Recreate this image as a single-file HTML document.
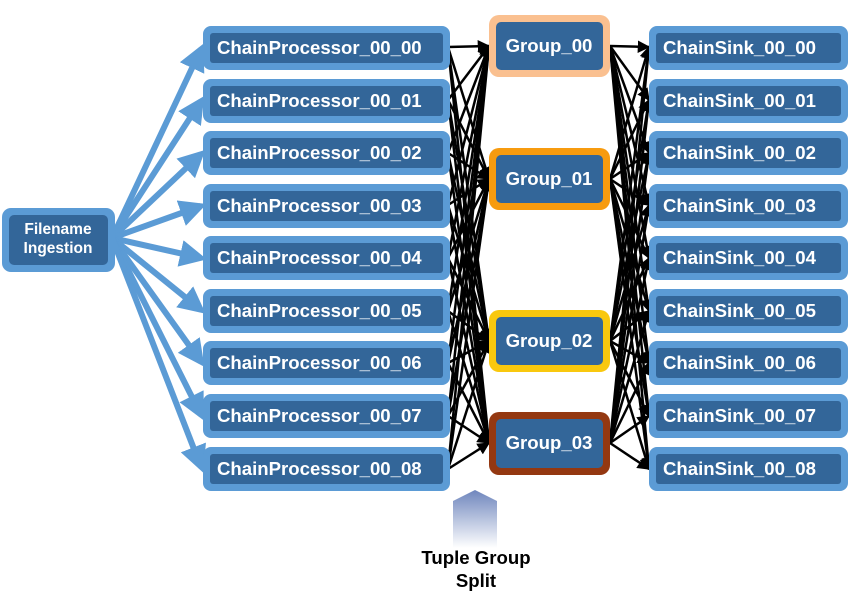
<!DOCTYPE html>
<html><head><meta charset="utf-8"><style>
body{margin:0;background:#fff}
svg text{font-family:"Liberation Sans",sans-serif;font-weight:bold;fill:#fff}
</style></head><body>
<svg width="850" height="600" viewBox="0 0 850 600" xmlns="http://www.w3.org/2000/svg">
<defs>
<marker id="ba" markerWidth="4.5" markerHeight="4.5" refX="3.5" refY="2.25" orient="auto" markerUnits="strokeWidth"><path d="M0,0 L4.5,2.25 L0,4.5 z" fill="#5b9bd5"/></marker>
<marker id="ka" markerWidth="5" markerHeight="5" refX="4.5" refY="2.5" orient="auto" markerUnits="strokeWidth"><path d="M0,0 L5,2.5 L0,5 z" fill="#000"/></marker>
<linearGradient id="tg" x1="0" y1="0" x2="0" y2="1"><stop offset="0" stop-color="#6f86bd"/><stop offset="1" stop-color="#fff"/></linearGradient>
</defs>
<g stroke="#5b9bd5" stroke-width="6" marker-end="url(#ba)">
<line x1="112" y1="238" x2="201" y2="49"/>
<line x1="112" y1="238" x2="201" y2="101"/>
<line x1="112" y1="238" x2="201" y2="154"/>
<line x1="112" y1="238" x2="201" y2="206"/>
<line x1="112" y1="238" x2="201" y2="258"/>
<line x1="112" y1="238" x2="201" y2="310"/>
<line x1="112" y1="238" x2="201" y2="362"/>
<line x1="112" y1="238" x2="201" y2="415"/>
<line x1="112" y1="238" x2="201" y2="467"/>
</g>
<g stroke="#000" stroke-width="2.5" marker-end="url(#ka)">
<line x1="448" y1="47" x2="489" y2="46"/><line x1="448" y1="47" x2="489" y2="179"/><line x1="448" y1="47" x2="489" y2="341"/><line x1="448" y1="47" x2="489" y2="443"/>
<line x1="448" y1="100" x2="489" y2="46"/><line x1="448" y1="100" x2="489" y2="179"/><line x1="448" y1="100" x2="489" y2="341"/><line x1="448" y1="100" x2="489" y2="443"/>
<line x1="448" y1="153" x2="489" y2="46"/><line x1="448" y1="153" x2="489" y2="179"/><line x1="448" y1="153" x2="489" y2="341"/><line x1="448" y1="153" x2="489" y2="443"/>
<line x1="448" y1="205" x2="489" y2="46"/><line x1="448" y1="205" x2="489" y2="179"/><line x1="448" y1="205" x2="489" y2="341"/><line x1="448" y1="205" x2="489" y2="443"/>
<line x1="448" y1="258" x2="489" y2="46"/><line x1="448" y1="258" x2="489" y2="179"/><line x1="448" y1="258" x2="489" y2="341"/><line x1="448" y1="258" x2="489" y2="443"/>
<line x1="448" y1="311" x2="489" y2="46"/><line x1="448" y1="311" x2="489" y2="179"/><line x1="448" y1="311" x2="489" y2="341"/><line x1="448" y1="311" x2="489" y2="443"/>
<line x1="448" y1="363" x2="489" y2="46"/><line x1="448" y1="363" x2="489" y2="179"/><line x1="448" y1="363" x2="489" y2="341"/><line x1="448" y1="363" x2="489" y2="443"/>
<line x1="448" y1="416" x2="489" y2="46"/><line x1="448" y1="416" x2="489" y2="179"/><line x1="448" y1="416" x2="489" y2="341"/><line x1="448" y1="416" x2="489" y2="443"/>
<line x1="448" y1="469" x2="489" y2="46"/><line x1="448" y1="469" x2="489" y2="179"/><line x1="448" y1="469" x2="489" y2="341"/><line x1="448" y1="469" x2="489" y2="443"/>
</g>
<g stroke="#000" stroke-width="2.5" marker-end="url(#ka)">
<line x1="610" y1="46" x2="649" y2="47"/><line x1="610" y1="46" x2="649" y2="100"/><line x1="610" y1="46" x2="649" y2="153"/><line x1="610" y1="46" x2="649" y2="205"/><line x1="610" y1="46" x2="649" y2="258"/><line x1="610" y1="46" x2="649" y2="311"/><line x1="610" y1="46" x2="649" y2="363"/><line x1="610" y1="46" x2="649" y2="416"/><line x1="610" y1="46" x2="649" y2="469"/>
<line x1="610" y1="179" x2="649" y2="47"/><line x1="610" y1="179" x2="649" y2="100"/><line x1="610" y1="179" x2="649" y2="153"/><line x1="610" y1="179" x2="649" y2="205"/><line x1="610" y1="179" x2="649" y2="258"/><line x1="610" y1="179" x2="649" y2="311"/><line x1="610" y1="179" x2="649" y2="363"/><line x1="610" y1="179" x2="649" y2="416"/><line x1="610" y1="179" x2="649" y2="469"/>
<line x1="610" y1="341" x2="649" y2="47"/><line x1="610" y1="341" x2="649" y2="100"/><line x1="610" y1="341" x2="649" y2="153"/><line x1="610" y1="341" x2="649" y2="205"/><line x1="610" y1="341" x2="649" y2="258"/><line x1="610" y1="341" x2="649" y2="311"/><line x1="610" y1="341" x2="649" y2="363"/><line x1="610" y1="341" x2="649" y2="416"/><line x1="610" y1="341" x2="649" y2="469"/>
<line x1="610" y1="443" x2="649" y2="47"/><line x1="610" y1="443" x2="649" y2="100"/><line x1="610" y1="443" x2="649" y2="153"/><line x1="610" y1="443" x2="649" y2="205"/><line x1="610" y1="443" x2="649" y2="258"/><line x1="610" y1="443" x2="649" y2="311"/><line x1="610" y1="443" x2="649" y2="363"/><line x1="610" y1="443" x2="649" y2="416"/><line x1="610" y1="443" x2="649" y2="469"/>
</g>
<rect x="2" y="208" width="113" height="64" rx="9" fill="#5b9bd5"/>
<rect x="9" y="215" width="99" height="50" rx="5" fill="#336699"/>
<text x="58" y="234" font-size="15.5" text-anchor="middle">Filename</text>
<text x="58" y="253" font-size="15.5" text-anchor="middle">Ingestion</text>
<g>
<rect x="203" y="26" width="247" height="44" rx="8" fill="#5b9bd5"/><rect x="210" y="33" width="233" height="30" rx="3" fill="#336699"/>
<rect x="203" y="79" width="247" height="44" rx="8" fill="#5b9bd5"/><rect x="210" y="86" width="233" height="30" rx="3" fill="#336699"/>
<rect x="203" y="131" width="247" height="44" rx="8" fill="#5b9bd5"/><rect x="210" y="138" width="233" height="30" rx="3" fill="#336699"/>
<rect x="203" y="184" width="247" height="44" rx="8" fill="#5b9bd5"/><rect x="210" y="191" width="233" height="30" rx="3" fill="#336699"/>
<rect x="203" y="236" width="247" height="44" rx="8" fill="#5b9bd5"/><rect x="210" y="243" width="233" height="30" rx="3" fill="#336699"/>
<rect x="203" y="289" width="247" height="44" rx="8" fill="#5b9bd5"/><rect x="210" y="296" width="233" height="30" rx="3" fill="#336699"/>
<rect x="203" y="341" width="247" height="44" rx="8" fill="#5b9bd5"/><rect x="210" y="348" width="233" height="30" rx="3" fill="#336699"/>
<rect x="203" y="394" width="247" height="44" rx="8" fill="#5b9bd5"/><rect x="210" y="401" width="233" height="30" rx="3" fill="#336699"/>
<rect x="203" y="447" width="247" height="44" rx="8" fill="#5b9bd5"/><rect x="210" y="454" width="233" height="30" rx="3" fill="#336699"/>
</g>
<g font-size="18.6">
<text x="217" y="54">ChainProcessor_00_00</text>
<text x="217" y="107">ChainProcessor_00_01</text>
<text x="217" y="159">ChainProcessor_00_02</text>
<text x="217" y="212">ChainProcessor_00_03</text>
<text x="217" y="264">ChainProcessor_00_04</text>
<text x="217" y="317">ChainProcessor_00_05</text>
<text x="217" y="369">ChainProcessor_00_06</text>
<text x="217" y="422">ChainProcessor_00_07</text>
<text x="217" y="475">ChainProcessor_00_08</text>
</g>
<g>
<rect x="649" y="26" width="199" height="44" rx="8" fill="#5b9bd5"/><rect x="656" y="33" width="185" height="30" rx="3" fill="#336699"/>
<rect x="649" y="79" width="199" height="44" rx="8" fill="#5b9bd5"/><rect x="656" y="86" width="185" height="30" rx="3" fill="#336699"/>
<rect x="649" y="131" width="199" height="44" rx="8" fill="#5b9bd5"/><rect x="656" y="138" width="185" height="30" rx="3" fill="#336699"/>
<rect x="649" y="184" width="199" height="44" rx="8" fill="#5b9bd5"/><rect x="656" y="191" width="185" height="30" rx="3" fill="#336699"/>
<rect x="649" y="236" width="199" height="44" rx="8" fill="#5b9bd5"/><rect x="656" y="243" width="185" height="30" rx="3" fill="#336699"/>
<rect x="649" y="289" width="199" height="44" rx="8" fill="#5b9bd5"/><rect x="656" y="296" width="185" height="30" rx="3" fill="#336699"/>
<rect x="649" y="341" width="199" height="44" rx="8" fill="#5b9bd5"/><rect x="656" y="348" width="185" height="30" rx="3" fill="#336699"/>
<rect x="649" y="394" width="199" height="44" rx="8" fill="#5b9bd5"/><rect x="656" y="401" width="185" height="30" rx="3" fill="#336699"/>
<rect x="649" y="447" width="199" height="44" rx="8" fill="#5b9bd5"/><rect x="656" y="454" width="185" height="30" rx="3" fill="#336699"/>
</g>
<g font-size="18.6">
<text x="663" y="54">ChainSink_00_00</text>
<text x="663" y="107">ChainSink_00_01</text>
<text x="663" y="159">ChainSink_00_02</text>
<text x="663" y="212">ChainSink_00_03</text>
<text x="663" y="264">ChainSink_00_04</text>
<text x="663" y="317">ChainSink_00_05</text>
<text x="663" y="369">ChainSink_00_06</text>
<text x="663" y="422">ChainSink_00_07</text>
<text x="663" y="475">ChainSink_00_08</text>
</g>
<rect x="489" y="15" width="121" height="62" rx="10" fill="#fac090"/><rect x="496" y="22" width="107" height="48" rx="5" fill="#336699"/>
<rect x="489" y="148" width="121" height="62" rx="10" fill="#f79b0f"/><rect x="496" y="155" width="107" height="48" rx="5" fill="#336699"/>
<rect x="489" y="310" width="121" height="62" rx="10" fill="#f9c80e"/><rect x="496" y="317" width="107" height="48" rx="5" fill="#336699"/>
<rect x="489" y="412" width="121" height="63" rx="10" fill="#943811"/><rect x="496" y="419" width="107" height="49" rx="5" fill="#336699"/>
<g font-size="18.6" text-anchor="middle">
<text x="549" y="52">Group_00</text>
<text x="549" y="185">Group_01</text>
<text x="549" y="347">Group_02</text>
<text x="549" y="449">Group_03</text>
</g>
<path d="M453,501 L475,490 L497,501 L497,548 L453,548 z" fill="url(#tg)"/>
<text x="476" y="564" font-size="18.6" text-anchor="middle" style="fill:#000">Tuple Group</text>
<text x="476" y="587" font-size="18.6" text-anchor="middle" style="fill:#000">Split</text>
</svg>
</body></html>
